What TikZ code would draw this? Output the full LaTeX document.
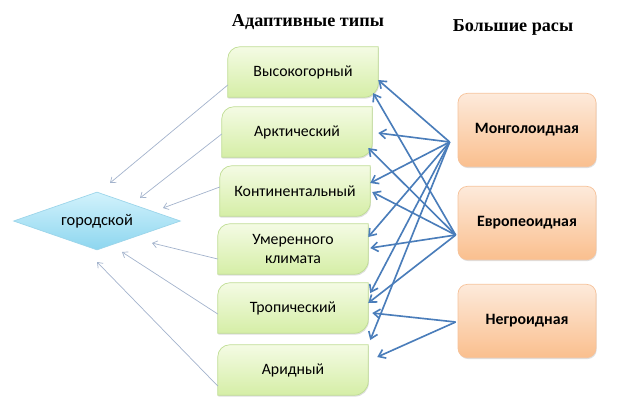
\documentclass[tikz,border=0pt]{standalone}
\usepackage{fontspec}
\setmainfont{Carlito}
\newfontfamily\headfont{Liberation Serif}
\usetikzlibrary{shapes.geometric, arrows.meta, calc, backgrounds, shadows}

\definecolor{greentop}{HTML}{F4FBE4}
\definecolor{greenbot}{HTML}{D5EEA6}
\definecolor{greenline}{HTML}{BFDD93}
\definecolor{orangetop}{HTML}{FDEADB}
\definecolor{orangebot}{HTML}{FABF8E}
\definecolor{orangeline}{HTML}{F6C29A}
\definecolor{citytop}{HTML}{D2F2FC}
\definecolor{citybot}{HTML}{8DD6EF}
\definecolor{cityline}{HTML}{9CD5EA}
\definecolor{racearrow}{HTML}{4A7DBA}
\definecolor{cityarrow}{HTML}{A3B3CC}

% leaf-shaped box behind an adaptive type node
\newcommand\adaptbox[1]{%
  \path[adaptfill] (#1.south west) -- ([yshift=-0.36cm]#1.north west)
    arc[start angle=180, end angle=90, radius=0.36cm] -- (#1.north east)
    -- ([yshift=0.42cm]#1.south east)
    arc[start angle=0, end angle=-90, radius=0.42cm] -- cycle;}

\begin{document}
\begin{tikzpicture}[
    x=0.03cm, y=-0.03cm,
    adapt/.style={rectangle, minimum width=4.5cm, minimum height=1.5cm, align=center, inner sep=1pt, font=\fontsize{13.5}{16}\selectfont},
    adaptfill/.style={draw=greenline, line width=0.6pt, top color=greentop, bottom color=greenbot, drop shadow={shadow xshift=0.6pt, shadow yshift=-1.2pt, opacity=0.25}},
    race/.style={rectangle, draw=orangeline, line width=0.6pt, rounded corners=8pt, top color=orangetop, bottom color=orangebot, minimum width=4.14cm, minimum height=2.2cm, font=\bfseries\fontsize{13.5}{16}\selectfont, drop shadow={shadow xshift=0.6pt, shadow yshift=-1.2pt, opacity=0.25}},
    city/.style={diamond, aspect=2.9, draw=cityline, line width=0.6pt, top color=citytop, bottom color=citybot, minimum width=5.01cm, minimum height=1.74cm, inner sep=0pt, font=\fontsize{14}{16}\selectfont},
    head/.style={font=\headfont\bfseries\fontsize{15.5}{18}\selectfont},
    racearr/.style={-{Straight Barb[length=5.5pt, width=8pt]}, draw=racearrow, line width=1.4pt},
    cityarr/.style={-{Straight Barb[length=4pt, width=6pt]}, draw=cityarrow, line width=0.6pt}
]
\useasboundingbox (0,0) rectangle (625,410);

% Заголовки
\node[head] (hadapt) at (308,22) {Адаптивные типы};
\node[head] (hrace) at (513,27) {Большие расы};

% Адаптивные типы
\node[adapt] (vys) at (303,72) {Высокогорный};
\node[adapt] (arkt) at (297,132) {Арктический};
\node[adapt] (kont) at (295,191) {Континентальный};
\node[adapt] (umer) at (293,249) {Умеренного\\климата};
\node[adapt] (trop) at (293,308) {Тропический};
\node[adapt] (arid) at (293,370) {Аридный};

\begin{scope}[on background layer]
\adaptbox{vys}
\adaptbox{arkt}
\adaptbox{kont}
\adaptbox{umer}
\adaptbox{trop}
\adaptbox{arid}
\end{scope}

% Большие расы
\node[race] (mong) at (527,130) {Монголоидная};
\node[race] (evro) at (527,223) {Европеоидная};
\node[race] (negr) at (527,321) {Негроидная};

% городской тип
\node[city] (gor) at (97,221) {городской};

% точки выхода стрелок у рас
\coordinate (mongout) at ($(mong.west)+(-8,12)$);
\coordinate (evroout) at ($(evro.west)+(-2,12)$);
\coordinate (negrout) at ($(negr.west)+(-2,1)$);

% Монголоидная -> типы
\draw[racearr] (mongout) -- ($(vys.east)+(0,8)$);
\draw[racearr] (mongout) -- ($(arkt.east)+(6,1)$);
\draw[racearr] (mongout) -- ($(kont.east)+(0,-8)$);
\draw[racearr] (mongout) -- ($(umer.east)+(0,-12)$);
\draw[racearr] (mongout) -- ($(trop.east)+(2,-15)$);
\draw[racearr] (mongout) -- ($(arid.east)+(2,-30)$);

% Европеоидная -> типы
\draw[racearr] (evroout) -- ($(vys.south east)+(-5,-4)$);
\draw[racearr] (evroout) -- ($(arkt.east)+(-4,16)$);
\draw[racearr] (evroout) -- ($(kont.east)+(2,1)$);
\draw[racearr] (evroout) -- ($(umer.east)+(2,-1)$);
\draw[racearr] (evroout) -- ($(trop.east)+(0,-5)$);

% Негроидная -> типы
\draw[racearr] (negrout) -- ($(trop.east)+(4,5)$);
\draw[racearr] (negrout) -- ($(arid.east)+(9,-13)$);

% типы -> городской
\draw[cityarr] ($(vys.west)+(0,13)$) -- ($(gor.center)+(13,-38)$);
\draw[cityarr] ($(arkt.west)+(0,2)$) -- ($(gor.center)+(43,-23)$);
\draw[cityarr] ($(kont.west)+(0,-4)$) -- ($(gor.center)+(66,-13)$);
\draw[cityarr] ($(umer.west)+(0,10)$) -- ($(gor.center)+(55,22)$);
\draw[cityarr] ($(trop.west)+(0,6)$) -- ($(gor.center)+(25,31)$);
\draw[cityarr] ($(arid.west)+(0,16)$) -- ($(gor.center)+(0,41)$);

\end{tikzpicture}
\end{document}
